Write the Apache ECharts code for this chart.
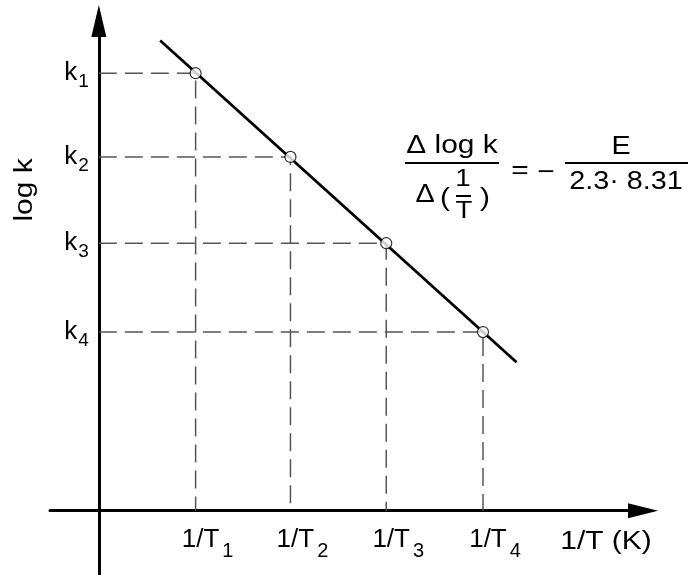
<!DOCTYPE html>
<html><head><meta charset="utf-8">
<script src="https://cdn.jsdelivr.net/npm/echarts@6/dist/echarts.min.js"></script>
<style>html,body{margin:0;padding:0;background:#fff}#c{width:691px;height:575px}</style>
</head><body><div id="c"></div>
<script>
// data (arbitrary units: 1/T on x, log k on y)
const invT = [1.01, 2.0, 3.0, 4.01];
const logK = [5.07, 4.10, 3.10, 2.07];
const subIdx = ['1', '2', '3', '4'];
const fitX = [0.64, 4.36];
const fitY = [5.45, 1.72];
const xName = '1/T (K)';
const yName = 'log k';

const FONT = '"Liberation Sans", Arial, sans-serif';
const W = 691, H = 575;
const G = {left: 50, right: 48, top: 21, bottom: 0};
const X_MIN = -0.51, X_MAX = 5.68, Y_MIN = -0.745, Y_MAX = 5.675;
// axes cross at data zero: shift each axis line from the grid edge to the zero of the other axis
const yOff = -((0 - X_MIN) / (X_MAX - X_MIN)) * (W - G.left - G.right);
const xOff = -((0 - Y_MIN) / (Y_MAX - Y_MIN)) * (H - G.top - G.bottom);

const chart = echarts.init(document.getElementById('c'), null, {renderer: 'canvas'});
function findIdx(arr, v) { for (let i = 0; i < arr.length; i++) if (Math.abs(arr[i] - v) < 1e-6) return i; return -1; }

const dashed = invT.map((x, i) => ({
  type: 'line', data: [[0, logK[i]], [x, logK[i]], [x, 0]], symbol: 'none', silent: true, z: 1,
  lineStyle: {color: '#555', width: 1.5, type: [18, 8]}
}));

const SX = 1.15;
const txt = (t, x, y, fs, extra) => Object.assign({
  type: 'text', x: x, y: y, scaleX: SX, silent: true,
  style: {text: t, fontSize: fs, fontFamily: FONT, fill: '#000', align: 'center', verticalAlign: 'middle'}
}, extra || {});
const bar = (x1, x2, y, w) => ({type: 'line', silent: true, shape: {x1: x1, y1: y, x2: x2, y2: y}, style: {stroke: '#000', lineWidth: w}});

const option = {
  animation: false,
  grid: Object.assign({outerBoundsMode: 'none', containLabel: false}, G),
  xAxis: {
    type: 'value', min: X_MIN, max: X_MAX, offset: xOff, splitLine: {show: false}, axisTick: {show: false},
    axisLine: {onZero: false, symbol: ['none', 'triangle'], symbolSize: [15, 30], lineStyle: {color: '#000', width: 3}},
    axisLabel: {
      customValues: invT, margin: 8, padding: [0, 0, 0, 24],
      formatter: v => { const i = findIdx(invT, v); return i < 0 ? '' : '{m|1/T}{s|' + subIdx[i] + '}'; },
      rich: {
        m: {fontSize: 26, fontFamily: FONT, color: '#000'},
        s: {fontSize: 20, fontFamily: FONT, color: '#000', padding: [23, 0, 0, 3]}
      }
    }
  },
  yAxis: {
    type: 'value', min: Y_MIN, max: Y_MAX, offset: yOff, splitLine: {show: false}, axisTick: {show: false},
    axisLine: {onZero: false, symbol: ['none', 'triangle'], symbolSize: [15, 32], lineStyle: {color: '#000', width: 3}},
    axisLabel: {
      customValues: logK, margin: 10,
      formatter: v => { const i = findIdx(logK, v); return i < 0 ? '' : '{k|k}{s|' + subIdx[i] + '}'; },
      rich: {
        k: {fontSize: 26, fontFamily: FONT, color: '#000'},
        s: {fontSize: 19, fontFamily: FONT, color: '#000', padding: [17, 0, 0, 1]}
      }
    }
  },
  series: dashed.concat([
    {type: 'line', data: fitX.map((x, i) => [x, fitY[i]]), symbol: 'none', silent: true, z: 2,
     lineStyle: {color: '#000', width: 2.8}},
    {type: 'scatter', data: invT.map((x, i) => [x, logK[i]]), symbol: 'circle', symbolSize: 11, silent: true, z: 3,
     itemStyle: {color: '#fff', borderColor: '#000', borderWidth: 1.2}}
  ]),
  graphic: [
    txt(yName, 25, 190, 26, {rotation: Math.PI / 2, scaleX: SX}),
    txt(xName, 606, 542, 26),
    // formula
    txt('Δ log k', 452, 146, 26),
    bar(405, 499, 163, 2),
    txt('Δ', 425, 195, 25),
    txt('(', 445, 199, 26),
    txt('1', 463, 179, 24),
    bar(456, 471, 196, 2),
    txt('T', 464, 211, 24),
    txt(')', 485, 199, 26),
    txt('=', 520, 171, 26),
    txt('−', 546, 173, 26),
    txt('E', 621, 147, 25),
    bar(565, 688, 163, 2),
    txt('2.3· 8.31', 626, 182, 25)
  ]
};
chart.setOption(option);
</script>
</body></html>
